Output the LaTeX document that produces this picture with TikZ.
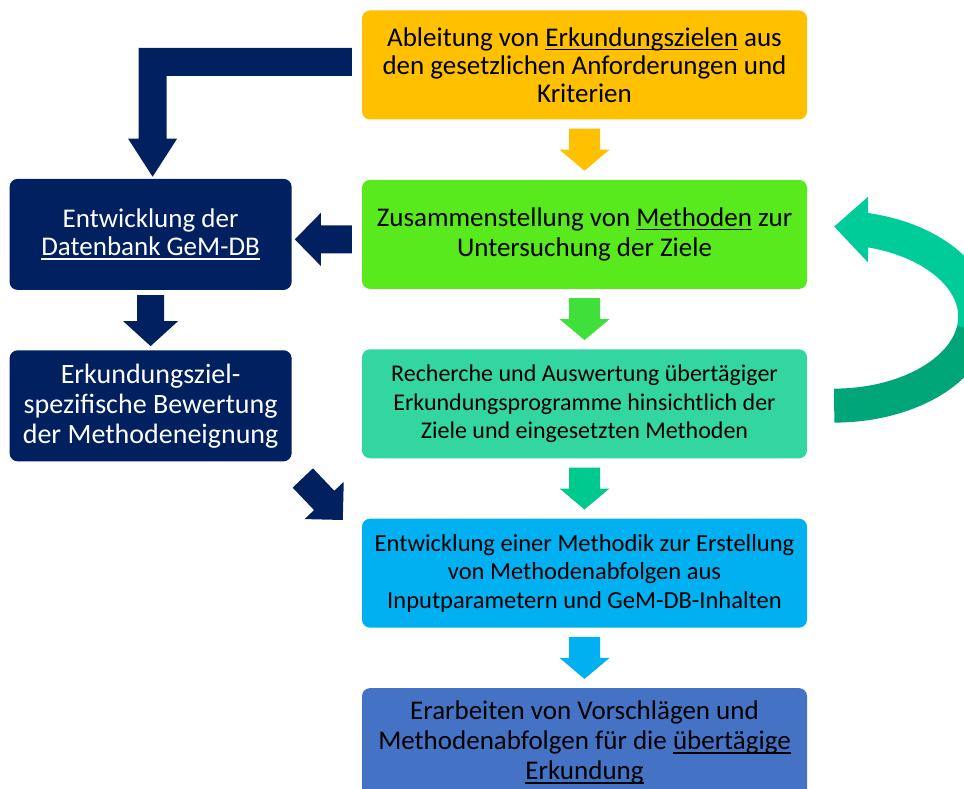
\documentclass[tikz,border=0pt]{standalone}
\usepackage{fontspec}
\setmainfont{Carlito}
\usetikzlibrary{positioning,calc}
\definecolor{gold}{HTML}{FFC000}
\definecolor{gruen}{HTML}{58EA1C}
\definecolor{pfeilgruen}{HTML}{3FE03A}
\definecolor{tuerkis}{HTML}{33D6A0}
\definecolor{pfeiltuerkis}{HTML}{00C98E}
\definecolor{himmel}{HTML}{00B0F0}
\definecolor{blau}{HTML}{4472C4}
\definecolor{navy}{HTML}{002060}
\definecolor{schleifehell}{HTML}{00CC99}
\definecolor{schleifedunkel}{HTML}{00A578}
\newcommand{\unterstr}[1]{\leavevmode\setbox0=\hbox{#1}\rlap{\rule[-4pt]{\wd0}{1.4pt}}\box0\relax}
\newcommand{\blockpfeil}[6]{%
  \path (#2) coordinate (pf-a) (#3) coordinate (pf-b);
  \path ($(pf-b)!#6!(pf-a)$) coordinate (pf-h);
  \fill[#1] ($(pf-a)!#4!90:(pf-b)$) -- ($(pf-h)!#4!90:(pf-b)$) -- ($(pf-h)!#5!90:(pf-b)$)
    -- (pf-b) -- ($(pf-h)!#5!-90:(pf-b)$) -- ($(pf-h)!#4!-90:(pf-b)$) -- ($(pf-a)!#4!-90:(pf-b)$) -- cycle;}

\begin{document}
\begin{tikzpicture}[x=1pt,y=-1pt,node distance=60pt,
  box/.style={rounded corners=8pt,minimum width=445pt,minimum height=109pt,inner sep=0pt,align=center,font=\fontsize{27}{28}\selectfont},
  navybox/.style={box,fill=navy,text=white,minimum width=282pt,minimum height=111pt}]
\useasboundingbox (0,0) rectangle (964,789);

\node[box,fill=gold] (ziele) at (584.5,65) {Ableitung von \unterstr{Erkundungszielen} aus\\den gesetzlichen Anforderungen und\\Kriterien};
\node[box,fill=gruen,below=of ziele,font=\fontsize{27}{30}\selectfont] (methoden) {Zusammenstellung von \unterstr{Methoden} zur\\Untersuchung der Ziele};
\node[box,fill=tuerkis,below=of methoden,font=\fontsize{24}{28.5}\selectfont] (recherche) {Recherche und Auswertung übertägiger\\Erkundungsprogramme hinsichtlich der\\Ziele und eingesetzten Methoden};
\node[box,fill=himmel,below=of recherche,font=\fontsize{24.5}{28.5}\selectfont] (methodik) {Entwicklung einer Methodik zur Erstellung\\von Methodenabfolgen aus\\Inputparametern und GeM-DB-Inhalten};
\node[box,fill=blau,below=of methodik,font=\fontsize{27}{30}\selectfont] (vorschlaege) {Erarbeiten von Vorschlägen und\\Methodenabfolgen für die \unterstr{übertägige}\\\unterstr{Erkundung}};

\node[navybox,left=70pt of methoden] (datenbank) {Entwicklung der\\\unterstr{Datenbank GeM-DB}};
\node[navybox,below=of datenbank,font=\fontsize{28}{30}\selectfont] (bewertung) {Erkundungsziel-\\spezifische Bewertung\\der Methodeneignung};

\blockpfeil{gold}{[yshift=-9pt]ziele.south}{[yshift=9pt]methoden.north}{15.5pt}{25pt}{21pt}
\blockpfeil{pfeilgruen}{[yshift=-9pt]methoden.south}{[yshift=9pt]recherche.north}{15.5pt}{25pt}{21pt}
\blockpfeil{pfeiltuerkis}{[yshift=-9pt]recherche.south}{[yshift=9pt]methodik.north}{15.5pt}{25pt}{21pt}
\blockpfeil{himmel}{[yshift=-9pt]methodik.south}{[yshift=9pt]vorschlaege.north}{15.5pt}{25pt}{21pt}
\blockpfeil{navy}{[xshift=-10pt,yshift=-5pt]methoden.west}{[xshift=3pt,yshift=-5pt]datenbank.east}{14pt}{26.5pt}{26pt}
\blockpfeil{navy}{[yshift=-5pt]datenbank.south}{[yshift=4pt]bewertung.north}{13.5pt}{27.5pt}{25pt}
\blockpfeil{navy}{[xshift=11pt,yshift=-16.5pt]bewertung.south east}{[xshift=-19pt,yshift=-1.5pt]methodik.north west}{14pt}{27pt}{27pt}

\fill[navy] let \p1=([xshift=-10pt,yshift=3pt]ziele.west), \p2=([xshift=2pt,yshift=2pt]datenbank.north) in
  (\x1,\y1+14pt) -- (\x2-14pt,\y1+14pt) -- (\x2-14pt,\y2+38pt) -- (\x2-24.5pt,\y2+38pt) -- (\x2,\y2)
  -- (\x2+24.5pt,\y2+38pt) -- (\x2+14pt,\y2+38pt) -- (\x2+14pt,\y1-14pt) -- (\x1,\y1-14pt) -- cycle;

\path ([xshift=27pt]methoden.east) coordinate (m-r) ([xshift=27pt]recherche.east) coordinate (r-r);
\coordinate (schleife) at ($(m-r)!0.5!(r-r)+(0,-2.5)$);
\draw[schleifedunkel,line width=34pt] (schleife) ++(0,89) arc[start angle=-90,end angle=-8,x radius=141pt,y radius=89pt] coordinate (wechsel);
\draw[schleifehell,line width=34pt] (wechsel) arc[start angle=-8,end angle=79,x radius=141pt,y radius=89pt];
\fill[schleifehell] ($(schleife)+(34,-120)$) -- ($(schleife)+(0,-90)$) -- ($(schleife)+(34,-54)$) -- cycle;
\end{tikzpicture}
\end{document}
